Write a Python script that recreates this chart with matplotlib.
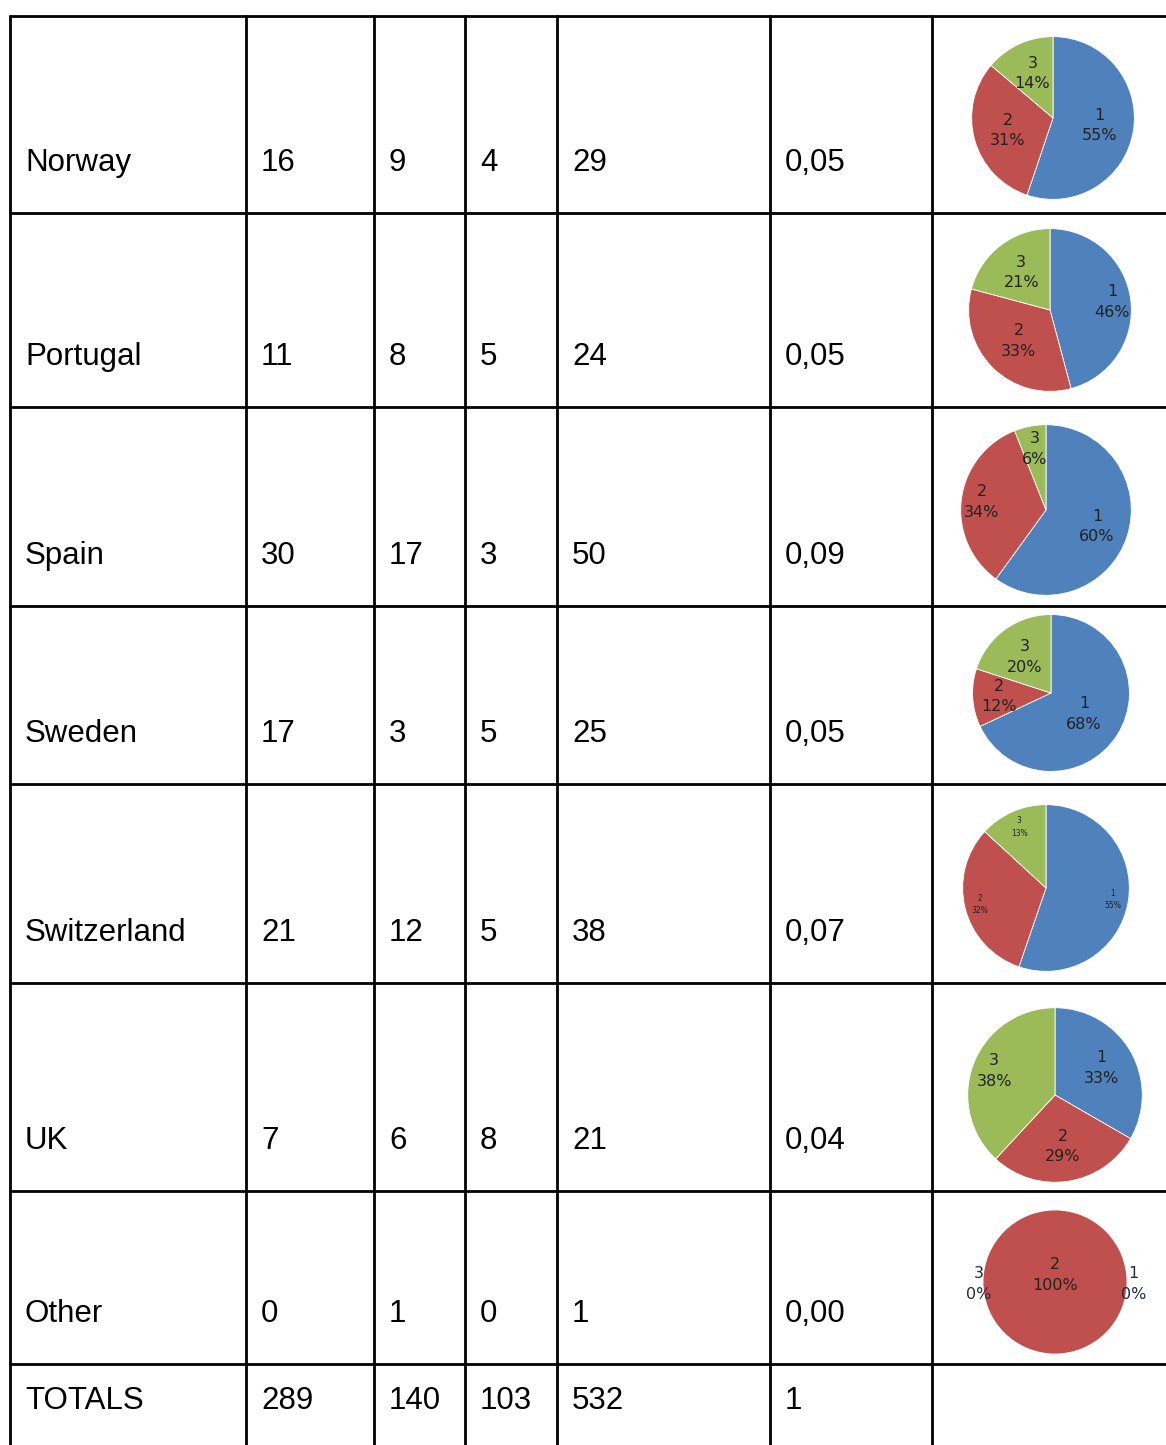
import matplotlib
matplotlib.use("Agg")
import matplotlib.pyplot as plt
import numpy as np

# ---------------- data ----------------
countries = ["Norway", "Portugal", "Spain", "Sweden", "Switzerland", "UK", "Other"]
col1 = [16, 11, 30, 17, 21, 7, 0]
col2 = [9, 8, 17, 3, 12, 6, 1]
col3 = [4, 5, 3, 5, 5, 8, 0]
totals_row = [29, 24, 50, 25, 38, 21, 1]
share = ["0,05", "0,05", "0,09", "0,05", "0,07", "0,04", "0,00"]
totals_label = "TOTALS"
totals_values = ["289", "140", "103", "532", "1"]
slice_names = ["1", "2", "3"]

# ---------------- layout ----------------
W, H = 1166, 1445
fig = plt.figure(figsize=(W / 100, H / 100), dpi=100)
ax = fig.add_axes([0, 0, 1, 1])
ax.set_xlim(0, W)
ax.set_ylim(H, 0)
ax.axis("off")

row_lines = [16, 213, 407, 606, 784, 983, 1191, 1364]
col_lines = [10, 246, 374, 465, 557, 770, 932]
text_x = [25, 261, 389, 480, 572, 785]
lw = 2.0

for y in row_lines:
    ax.plot([col_lines[0] - 1, W], [y, y], color="black", lw=lw, solid_capstyle="butt")
for x in col_lines:
    ax.plot([x, x], [row_lines[0] - 1, H], color="black", lw=lw, solid_capstyle="butt")

fs = 22.5
font = "Liberation Sans"
for i, name in enumerate(countries):
    base = row_lines[i + 1] - 42
    vals = [name, str(col1[i]), str(col2[i]), str(col3[i]), str(totals_row[i]), share[i]]
    for x, v in zip(text_x, vals):
        ax.text(x, base, v, fontsize=fs, family=font, va="baseline", ha="left", color="black")

base = 1409
for x, v in zip(text_x, [totals_label] + totals_values):
    ax.text(x, base, v, fontsize=fs, family=font, va="baseline", ha="left", color="black")

# ---------------- pies ----------------
colors = ["#4F81BD", "#C0504D", "#9BBB59"]
pie_geom = [  # (cx, cy, r, label distances, fontsize)
    (1053, 118, 83, [0.58, 0.58, 0.6], 11.5),
    (1050, 310, 83, [0.77, 0.54, 0.58], 11.5),
    (1046, 510, 87, [0.63, 0.76, 0.73], 11.5),
    (1051, 693, 80, [0.5, 0.66, 0.57], 11.5),
    (1046, 888, 85, [0.81, 0.82, 0.8], 5.5),
    (1055, 1095, 89, [0.62, 0.6, 0.75], 11.5),
    (1055, 1282, 73, [0.0, 0.0, 0.0], 11.5),
]

for i in range(len(countries)):
    cx, cy, r, dists, pfs = pie_geom[i]
    pax = fig.add_axes([(cx - r) / W, 1 - (cy + r) / H, 2 * r / W, 2 * r / H])
    vals = [col1[i], col2[i], col3[i]]
    total = sum(vals)
    single = max(vals) == total
    wedges, _ = pax.pie(vals, colors=colors, startangle=90, counterclock=False,
                        radius=1, wedgeprops=dict(edgecolor="white",
                                                  linewidth=0 if single else 0.6))
    pax.set_xlim(-1.02, 1.02)
    pax.set_ylim(-1.02, 1.02)
    pax.set_aspect("equal")
    pax.axis("off")
    for k, (wdg, v) in enumerate(zip(wedges, vals)):
        pct = int(round(100 * v / total))
        lab = f"{slice_names[k]}\n{pct}%"
        if v == 0:
            xx = 1.1 if k == 0 else -1.07
            pax.text(xx, -0.03, lab, ha="center", va="center", fontsize=pfs,
                     color="#1F2A44", linespacing=1.45, clip_on=False)
            continue
        if v == total:
            pax.text(0, 0.1, lab, ha="center", va="center", fontsize=pfs,
                     color="#222222", linespacing=1.45)
            continue
        ang = np.deg2rad((wdg.theta1 + wdg.theta2) / 2)
        d = dists[k]
        pax.text(d * np.cos(ang), d * np.sin(ang), lab, ha="center", va="center",
                 fontsize=pfs, color="#222222", linespacing=1.45)

fig.savefig("out.png", dpi=100)
